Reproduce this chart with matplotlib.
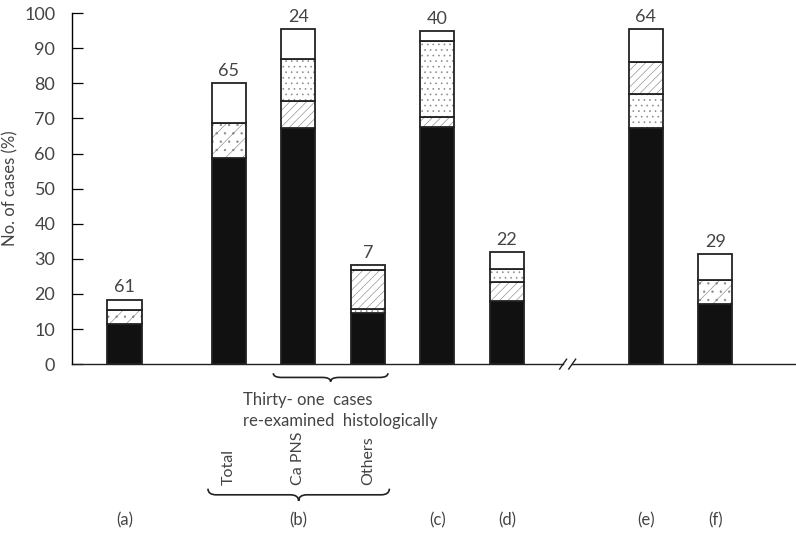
import matplotlib
matplotlib.use("Agg")
from matplotlib import pyplot as plt
from matplotlib.path import Path
from matplotlib.patches import PathPatch

# data (percent of cases, stacked from the bottom)
bar_names = ["a", "b-total", "b-ca", "b-others", "c", "d", "e", "f"]
case_counts = [61, 65, 24, 7, 40, 22, 64, 29]
black = [11.4, 58.7, 67.2, 14.5, 67.5, 18.0, 67.3, 17.1]
hatched = [0, 0, 7.7, 11.1, 2.9, 5.4, 9.0, 0]
stippled = [0, 0, 12.1, 1.2, 21.6, 3.6, 9.7, 0]
mixed = [4.0, 10.0, 0, 0, 0, 0, 0, 6.9]
white = [3.0, 11.3, 8.5, 1.4, 2.9, 5.0, 9.4, 7.3]
sub_labels = ["Total", "Ca PNS", "Others"]
group_labels = ["(a)", "(b)", "(c)", "(d)", "(e)", "(f)"]

# layout
xpos = [0, 1.5, 2.5, 3.5, 4.5, 5.5, 7.5, 8.5]
group_x = [0, 2.5, 4.5, 5.5, 7.5, 8.5]
stipple_below = {"b-others", "e"}
width = 0.49
txt = "#444444"
line = "#222222"

plt.rcParams["font.family"] = ["Lato", "DejaVu Sans"]
plt.rcParams["hatch.linewidth"] = 0.45

fig = plt.figure(figsize=(7.96, 5.5), dpi=100)
ax = fig.add_axes([0.0905, 0.338, 0.9095, 0.638])

hatches = {"black": None, "hatched": "////", "stippled": "...",
           "mixed": "//..", "white": None}

for i, name in enumerate(bar_names):
    order = ["black", "hatched", "stippled", "mixed", "white"]
    if name in stipple_below:
        order = ["black", "stippled", "hatched", "mixed", "white"]
    values = dict(black=black[i], hatched=hatched[i], stippled=stippled[i],
                  mixed=mixed[i], white=white[i])
    bottom = 0
    for layer in order:
        v = values[layer]
        if v <= 0:
            continue
        fill = "#111111" if layer == "black" else "white"
        # fill + light hatch first, then the dark outline on top
        ax.bar(xpos[i], v, width, bottom=bottom, color=fill,
               edgecolor="#8a8a8a", hatch=hatches[layer], linewidth=0)
        ax.bar(xpos[i], v, width, bottom=bottom, fill=False,
               edgecolor=line, linewidth=1.3)
        bottom += v
    ax.text(xpos[i], bottom + 1.2, str(case_counts[i]), ha="center",
            va="bottom", fontsize=13, color=txt)

ax.set_xlim(-0.755, 9.66)
ax.set_ylim(0, 100)
ax.set_yticks(range(0, 101, 10))
ax.set_xticks([])
ax.tick_params(axis="y", direction="in", length=8, pad=12, labelsize=13,
               labelcolor=txt, width=0.9)
for s in ["top", "right", "bottom"]:
    ax.spines[s].set_visible(False)
ax.spines["left"].set_linewidth(1.0)
ax.set_ylabel("No. of cases (%)", fontsize=12, color=txt, labelpad=4)

# broken x axis
b1, b2 = 6.31, 6.44
kw = dict(color=line, lw=1.0, clip_on=False)
ax.plot([-0.755, b1], [0, 0], **kw)
ax.plot([b2, 9.66], [0, 0], **kw)
for bx in (b1, b2):
    ax.plot([bx - 0.05, bx + 0.05], [-1.4, 1.4], **kw)


def brace(x0, x1, ytop, ybot, r=0.12):
    xm = (x0 + x1) / 2
    ymid = (ytop + ybot) / 2
    verts = [(x0, ytop), (x0, ymid), (x0 + r, ymid),
             (xm - r, ymid), (xm, ymid), (xm, ybot),
             (xm, ymid), (xm + r, ymid),
             (x1 - r, ymid), (x1, ymid), (x1, ytop)]
    codes = [Path.MOVETO, Path.CURVE3, Path.CURVE3,
             Path.LINETO, Path.CURVE3, Path.CURVE3,
             Path.CURVE3, Path.CURVE3,
             Path.LINETO, Path.CURVE3, Path.CURVE3]
    ax.add_patch(PathPatch(Path(verts, codes), fill=False, lw=1.2,
                           edgecolor=line, clip_on=False))


brace(2.14, 3.79, -2.6, -5.0)
ax.text(1.71, -13.2, "Thirty- one  cases\nre-examined  histologically",
        ha="left", va="center", fontsize=12, color=txt, linespacing=1.35)

for x, lab in zip(xpos[1:4], sub_labels):
    ax.text(x, -34.5, lab, rotation=90, ha="center", va="bottom",
            fontsize=11.5, color=txt)
brace(1.2, 3.81, -35.5, -39.0)

for x, lab in zip(group_x, group_labels):
    ax.text(x, -44.5, lab, ha="center", va="center", fontsize=12,
            color=txt)

fig.savefig("out.png", dpi=100)
